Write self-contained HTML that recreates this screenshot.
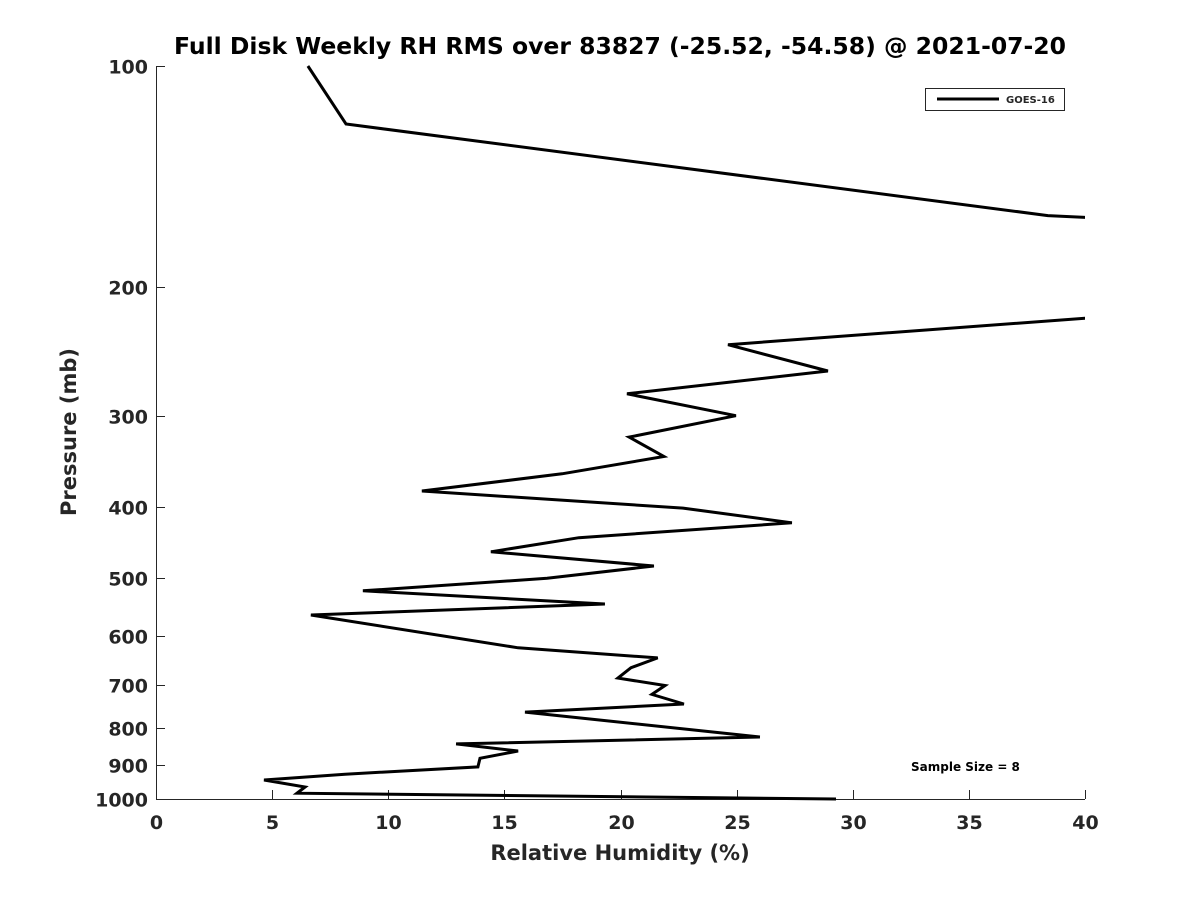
<!DOCTYPE html>
<html><head><meta charset="utf-8"><style>
body{margin:0;background:#fff;}
svg text{font-family:"DejaVu Sans","Liberation Sans",sans-serif;font-weight:bold;fill:#262626;}
</style></head><body>
<svg id="chart" width="1200" height="900" viewBox="0 0 1200 900" xmlns="http://www.w3.org/2000/svg">
<rect width="1200" height="900" fill="#fff"/>
<text x="620" y="54" text-anchor="middle" font-size="23.5" style="fill:#000">Full Disk Weekly RH RMS over 83827 (-25.52, -54.58) @ 2021-07-20</text>
<defs><clipPath id="clip"><rect x="156" y="60" width="929" height="745"/></clipPath></defs>
<g id="axes"></g>
<path id="series" clip-path="url(#clip)" fill="none" stroke="#000" stroke-width="3" stroke-linejoin="miter"/>
<text x="620" y="860" text-anchor="middle" font-size="21">Relative Humidity (%)</text>
<text transform="translate(76,432) rotate(-90)" text-anchor="middle" font-size="21">Pressure (mb)</text>
<g>
<rect x="925.5" y="88.5" width="139" height="22" fill="#fff" stroke="#262626" stroke-width="1"/>
<line x1="937" y1="99" x2="999" y2="99" stroke="#000" stroke-width="3"/>
<text x="1006" y="103" font-size="10">GOES-16</text>
</g>
<text x="911" y="771" font-size="12" style="fill:#000">Sample Size = 8</text>
</svg>
<script>
const rhValues=[6.54,8.18,38.4,80,40,24.63,28.93,20.28,24.97,20.37,21.87,17.48,11.45,22.69,27.38,18.21,14.42,21.44,16.84,8.91,19.33,6.67,15.59,21.6,20.45,19.89,21.92,21.35,22.73,15.89,26.0,12.92,15.59,13.95,13.86,8.14,4.65,6.42,6.07,29.28];
const pressures=[100,120,160,185,220.8,240,260.7,280,300,320.8,341,360,380,401,420,440,460,481,500,520,542,561,622,642,662,684,700,720,742,761,823,841,860,880,904,925,942,963,982,1000];
const xTicks=[0,5,10,15,20,25,30,35,40];
const yTicks=[100,200,300,400,500,600,700,800,900,1000];
const X0=156,X1=1085,Y0=66,Y1=799;
const xs=v=>X0+(v-0)/(40-0)*(X1-X0);
const ys=p=>Y0+Math.log10(p/100)*(Y1-Y0);
const NS='http://www.w3.org/2000/svg';
const ax=document.getElementById('axes');
function mk(t,a){const e=document.createElementNS(NS,t);for(const k in a)e.setAttribute(k,a[k]);ax.appendChild(e);return e;}
const xl=mk('line',{x1:X0,y1:Y1+0.5,x2:X1,y2:Y1+0.5,stroke:'#262626','stroke-width':1});


const yl=mk('line',{x1:X0+0.5,y1:Y0,x2:X0+0.5,y2:Y1,stroke:'#262626','stroke-width':1});


xTicks.forEach(v=>{const x=Math.round(xs(v))+0.5;
 mk('line',{x1:x,y1:Y1,x2:x,y2:Y1-9,stroke:'#262626','stroke-width':1});
 const t=mk('text',{x:x,y:Y1+30,'text-anchor':'middle','font-size':19});t.textContent=v;
 
 });
yTicks.forEach(p=>{const y=Math.round(ys(p))+0.5;
 mk('line',{x1:X0,y1:y,x2:X0+9,y2:y,stroke:'#262626','stroke-width':1});
 const t=mk('text',{x:X0-8,y:y+7,'text-anchor':'end','font-size':19});t.textContent=p;
 
 });
document.getElementById('series').setAttribute('d',rhValues.map((v,i)=>(i?'L':'M')+xs(v).toFixed(1)+','+ys(pressures[i]).toFixed(1)).join(''));
</script>
</body></html>
